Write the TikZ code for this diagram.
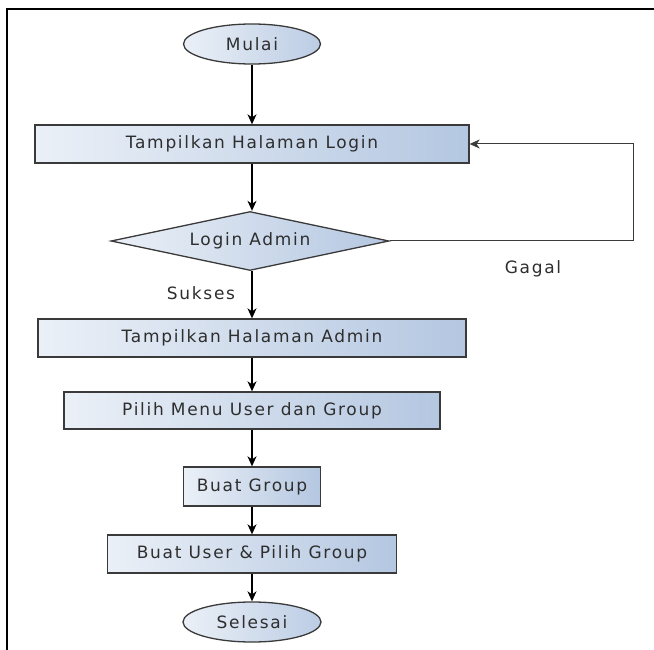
\documentclass[tikz,border=0pt]{standalone}
\usepackage{fontspec}
\newfontfamily\diafont[LetterSpace=10]{DejaVu Sans}
\usepackage{xcolor}
\usetikzlibrary{arrows.meta, shapes.geometric, calc}
\definecolor{boxlight}{HTML}{EBF0F7}
\definecolor{boxdark}{HTML}{B4C7E1}
\definecolor{edgegray}{HTML}{3A3A3A}
\definecolor{textgray}{HTML}{2E2E2E}

\begin{document}
\begin{tikzpicture}[x=1pt, y=-1pt, >={Stealth[length=10pt, width=9pt, inset=3pt]},
  every node/.style={font=\diafont\fontsize{17}{20}\selectfont, text=textgray},
  procbox/.style={draw=edgegray, line width=1.3pt, left color=boxlight, right color=boxdark, inner sep=0pt, minimum height=38pt},
  termnode/.style={ellipse, draw=edgegray, line width=1.3pt, left color=boxlight, right color=boxdark!90, inner sep=0pt, minimum width=137pt, minimum height=40pt},
  decide/.style={diamond, draw=edgegray, line width=1.3pt, left color=boxlight, right color=boxdark, inner sep=0pt, shape aspect=4.71, minimum width=278pt, minimum height=59pt},
  flow/.style={->, line width=1.4pt, black}]
  \useasboundingbox (0,0) rectangle (654,650);
  % frame
  \draw[line width=2.4pt] (7,650) -- (7,9) -- (654,9);

  \node[termnode] (mulai) at (252,44) {Mulai};
  \node[procbox, minimum width=434pt] (halLogin) at (252,144) {Tampilkan Halaman Login};
  \node[decide] (loginAdmin) at (250,241) {Login Admin};
  \node[procbox, minimum width=428pt] (halAdmin) at (252,338) {Tampilkan Halaman Admin};
  \node[procbox, minimum width=376pt, minimum height=37pt] (pilihMenu) at (252,410.5) {Pilih Menu User dan Group};
  \node[procbox, minimum width=137pt, minimum height=39pt] (buatGroup) at (252,486.5) {Buat Group};
  \node[procbox, minimum width=289pt] (buatUser) at (252,554) {Buat User \& Pilih Group};
  \node[termnode, minimum width=138pt] (selesai) at (252,622) {Selesai};

  \coordinate (balik) at (633,241);

  \draw[flow] (mulai) -- (halLogin);
  \draw[flow] (halLogin) -- (halLogin |- loginAdmin.north);
  \draw[flow] (loginAdmin.south -| halLogin) -- (halAdmin);
  \draw[flow] (halAdmin) -- (pilihMenu);
  \draw[flow] (pilihMenu) -- (buatGroup);
  \draw[flow] (buatGroup) -- (buatUser);
  \draw[flow] (buatUser) -- (selesai);
  \draw[->, line width=1pt, edgegray] (loginAdmin.east) -- (balik) |- (halLogin.east);

  \node (sukses) at (201,293) {Sukses};
  \node (gagal) at (533,269) {Gagal};
\end{tikzpicture}
\end{document}
